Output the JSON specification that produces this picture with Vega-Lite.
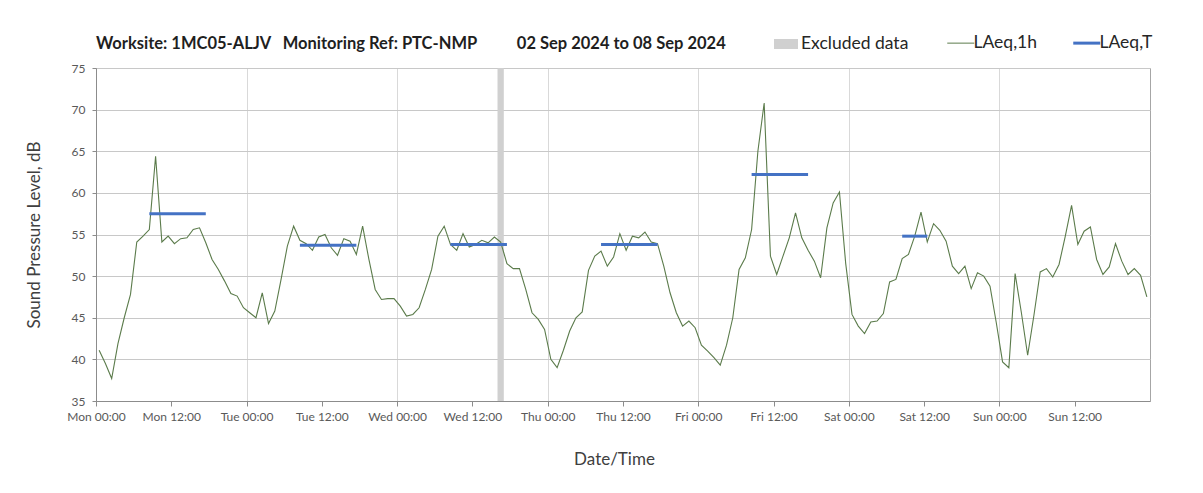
{
  "$schema": "https://vega.github.io/schema/vega-lite/v6.json",
  "width": 1054,
  "height": 333,
  "autosize": "none",
  "padding": {"left": 96, "top": 68, "right": 53, "bottom": 92},
  "background": "white",
  "title": {
    "text": "Worksite: 1MC05-ALJV\u00a0\u00a0 Monitoring Ref: PTC-NMP\u00a0\u00a0\u00a0\u00a0\u00a0\u00a0\u00a0\u00a0\u00a0 02 Sep 2024 to 08 Sep 2024",
    "anchor": "start",
    "frame": "group",
    "fontSize": 16.5,
    "fontWeight": "bold",
    "color": "#1f1f1f",
    "baseline": "alphabetic",
    "offset": 14,
    "dy": 45
  },
  "config": {
    "font": "Lato",
    "view": {"stroke": "#a6a6a6", "strokeWidth": 1},
    "axis": {
      "domainColor": "#8c8c8c",
      "tickColor": "#8c8c8c",
      "labelColor": "#595959",
      "labelFont": "Lato",
      "labelFontSize": 12,
      "titleFont": "Lato",
      "titleFontSize": 17,
      "titleFontWeight": "normal",
      "titleColor": "#404040",
      "gridColor": "#cccccc"
    }
  },
  "datasets": {
    "hourly": [
      {"t": "2024-09-02T00:30", "v": 41.1}, {"t": "2024-09-02T01:30", "v": 39.5}, {"t": "2024-09-02T02:30", "v": 37.7}, {"t": "2024-09-02T03:30", "v": 41.9},
      {"t": "2024-09-02T04:30", "v": 45.0}, {"t": "2024-09-02T05:30", "v": 47.8}, {"t": "2024-09-02T06:30", "v": 54.1}, {"t": "2024-09-02T07:30", "v": 54.8},
      {"t": "2024-09-02T08:30", "v": 55.6}, {"t": "2024-09-02T09:30", "v": 64.4}, {"t": "2024-09-02T10:30", "v": 54.1}, {"t": "2024-09-02T11:30", "v": 54.8},
      {"t": "2024-09-02T12:30", "v": 53.9}, {"t": "2024-09-02T13:30", "v": 54.5}, {"t": "2024-09-02T14:30", "v": 54.6}, {"t": "2024-09-02T15:30", "v": 55.6},
      {"t": "2024-09-02T16:30", "v": 55.8}, {"t": "2024-09-02T17:30", "v": 54.0}, {"t": "2024-09-02T18:30", "v": 52.0}, {"t": "2024-09-02T19:30", "v": 50.8},
      {"t": "2024-09-02T20:30", "v": 49.4}, {"t": "2024-09-02T21:30", "v": 47.9}, {"t": "2024-09-02T22:30", "v": 47.6}, {"t": "2024-09-02T23:30", "v": 46.2},
      {"t": "2024-09-03T00:30", "v": 45.6}, {"t": "2024-09-03T01:30", "v": 45.0}, {"t": "2024-09-03T02:30", "v": 48.0}, {"t": "2024-09-03T03:30", "v": 44.3},
      {"t": "2024-09-03T04:30", "v": 45.8}, {"t": "2024-09-03T05:30", "v": 49.6}, {"t": "2024-09-03T06:30", "v": 53.6}, {"t": "2024-09-03T07:30", "v": 56.0},
      {"t": "2024-09-03T08:30", "v": 54.3}, {"t": "2024-09-03T09:30", "v": 53.9}, {"t": "2024-09-03T10:30", "v": 53.1}, {"t": "2024-09-03T11:30", "v": 54.7},
      {"t": "2024-09-03T12:30", "v": 55.0}, {"t": "2024-09-03T13:30", "v": 53.4}, {"t": "2024-09-03T14:30", "v": 52.5}, {"t": "2024-09-03T15:30", "v": 54.5},
      {"t": "2024-09-03T16:30", "v": 54.2}, {"t": "2024-09-03T17:30", "v": 52.6}, {"t": "2024-09-03T18:30", "v": 56.0}, {"t": "2024-09-03T19:30", "v": 52.0},
      {"t": "2024-09-03T20:30", "v": 48.4}, {"t": "2024-09-03T21:30", "v": 47.2}, {"t": "2024-09-03T22:30", "v": 47.3}, {"t": "2024-09-03T23:30", "v": 47.3},
      {"t": "2024-09-04T00:30", "v": 46.4}, {"t": "2024-09-04T01:30", "v": 45.2}, {"t": "2024-09-04T02:30", "v": 45.4}, {"t": "2024-09-04T03:30", "v": 46.2},
      {"t": "2024-09-04T04:30", "v": 48.4}, {"t": "2024-09-04T05:30", "v": 50.8}, {"t": "2024-09-04T06:30", "v": 54.8}, {"t": "2024-09-04T07:30", "v": 56.0},
      {"t": "2024-09-04T08:30", "v": 53.8}, {"t": "2024-09-04T09:30", "v": 53.1}, {"t": "2024-09-04T10:30", "v": 55.1}, {"t": "2024-09-04T11:30", "v": 53.5},
      {"t": "2024-09-04T12:30", "v": 53.8}, {"t": "2024-09-04T13:30", "v": 54.3}, {"t": "2024-09-04T14:30", "v": 54.0}, {"t": "2024-09-04T15:30", "v": 54.7},
      {"t": "2024-09-04T16:30", "v": 54.1}, {"t": "2024-09-04T17:30", "v": 51.5}, {"t": "2024-09-04T18:30", "v": 50.9}, {"t": "2024-09-04T19:30", "v": 50.9},
      {"t": "2024-09-04T20:30", "v": 48.4}, {"t": "2024-09-04T21:30", "v": 45.6}, {"t": "2024-09-04T22:30", "v": 44.8}, {"t": "2024-09-04T23:30", "v": 43.6},
      {"t": "2024-09-05T00:30", "v": 40.0}, {"t": "2024-09-05T01:30", "v": 39.0}, {"t": "2024-09-05T02:30", "v": 41.1}, {"t": "2024-09-05T03:30", "v": 43.4},
      {"t": "2024-09-05T04:30", "v": 45.0}, {"t": "2024-09-05T05:30", "v": 45.7}, {"t": "2024-09-05T06:30", "v": 50.7}, {"t": "2024-09-05T07:30", "v": 52.4},
      {"t": "2024-09-05T08:30", "v": 53.0}, {"t": "2024-09-05T09:30", "v": 51.2}, {"t": "2024-09-05T10:30", "v": 52.3}, {"t": "2024-09-05T11:30", "v": 55.1},
      {"t": "2024-09-05T12:30", "v": 53.1}, {"t": "2024-09-05T13:30", "v": 54.8}, {"t": "2024-09-05T14:30", "v": 54.6}, {"t": "2024-09-05T15:30", "v": 55.3},
      {"t": "2024-09-05T16:30", "v": 54.1}, {"t": "2024-09-05T17:30", "v": 53.9}, {"t": "2024-09-05T18:30", "v": 51.2}, {"t": "2024-09-05T19:30", "v": 48.0},
      {"t": "2024-09-05T20:30", "v": 45.6}, {"t": "2024-09-05T21:30", "v": 44.0}, {"t": "2024-09-05T22:30", "v": 44.6}, {"t": "2024-09-05T23:30", "v": 43.8},
      {"t": "2024-09-06T00:30", "v": 41.7}, {"t": "2024-09-06T01:30", "v": 41.0}, {"t": "2024-09-06T02:30", "v": 40.2}, {"t": "2024-09-06T03:30", "v": 39.3},
      {"t": "2024-09-06T04:30", "v": 41.7}, {"t": "2024-09-06T05:30", "v": 45.0}, {"t": "2024-09-06T06:30", "v": 50.8}, {"t": "2024-09-06T07:30", "v": 52.2},
      {"t": "2024-09-06T08:30", "v": 55.6}, {"t": "2024-09-06T09:30", "v": 65.0}, {"t": "2024-09-06T10:30", "v": 70.8}, {"t": "2024-09-06T11:30", "v": 52.4},
      {"t": "2024-09-06T12:30", "v": 50.2}, {"t": "2024-09-06T13:30", "v": 52.4}, {"t": "2024-09-06T14:30", "v": 54.6}, {"t": "2024-09-06T15:30", "v": 57.6},
      {"t": "2024-09-06T16:30", "v": 54.6}, {"t": "2024-09-06T17:30", "v": 53.1}, {"t": "2024-09-06T18:30", "v": 51.8}, {"t": "2024-09-06T19:30", "v": 49.8},
      {"t": "2024-09-06T20:30", "v": 55.8}, {"t": "2024-09-06T21:30", "v": 58.8}, {"t": "2024-09-06T22:30", "v": 60.1}, {"t": "2024-09-06T23:30", "v": 51.5},
      {"t": "2024-09-07T00:30", "v": 45.4}, {"t": "2024-09-07T01:30", "v": 44.0}, {"t": "2024-09-07T02:30", "v": 43.1}, {"t": "2024-09-07T03:30", "v": 44.5},
      {"t": "2024-09-07T04:30", "v": 44.6}, {"t": "2024-09-07T05:30", "v": 45.5}, {"t": "2024-09-07T06:30", "v": 49.3}, {"t": "2024-09-07T07:30", "v": 49.6},
      {"t": "2024-09-07T08:30", "v": 52.1}, {"t": "2024-09-07T09:30", "v": 52.6}, {"t": "2024-09-07T10:30", "v": 54.8}, {"t": "2024-09-07T11:30", "v": 57.7},
      {"t": "2024-09-07T12:30", "v": 54.1}, {"t": "2024-09-07T13:30", "v": 56.3}, {"t": "2024-09-07T14:30", "v": 55.5}, {"t": "2024-09-07T15:30", "v": 54.2},
      {"t": "2024-09-07T16:30", "v": 51.2}, {"t": "2024-09-07T17:30", "v": 50.3}, {"t": "2024-09-07T18:30", "v": 51.2}, {"t": "2024-09-07T19:30", "v": 48.5},
      {"t": "2024-09-07T20:30", "v": 50.4}, {"t": "2024-09-07T21:30", "v": 50.0}, {"t": "2024-09-07T22:30", "v": 48.8}, {"t": "2024-09-07T23:30", "v": 44.4},
      {"t": "2024-09-08T00:30", "v": 39.7}, {"t": "2024-09-08T01:30", "v": 39.0}, {"t": "2024-09-08T02:30", "v": 50.3}, {"t": "2024-09-08T03:30", "v": 45.6},
      {"t": "2024-09-08T04:30", "v": 40.5}, {"t": "2024-09-08T05:30", "v": 45.3}, {"t": "2024-09-08T06:30", "v": 50.5}, {"t": "2024-09-08T07:30", "v": 50.9},
      {"t": "2024-09-08T08:30", "v": 49.9}, {"t": "2024-09-08T09:30", "v": 51.4}, {"t": "2024-09-08T10:30", "v": 54.8}, {"t": "2024-09-08T11:30", "v": 58.5},
      {"t": "2024-09-08T12:30", "v": 53.8}, {"t": "2024-09-08T13:30", "v": 55.4}, {"t": "2024-09-08T14:30", "v": 55.9}, {"t": "2024-09-08T15:30", "v": 52.0},
      {"t": "2024-09-08T16:30", "v": 50.2}, {"t": "2024-09-08T17:30", "v": 51.1}, {"t": "2024-09-08T18:30", "v": 53.9}, {"t": "2024-09-08T19:30", "v": 51.8},
      {"t": "2024-09-08T20:30", "v": 50.2}, {"t": "2024-09-08T21:30", "v": 50.9}, {"t": "2024-09-08T22:30", "v": 50.1}, {"t": "2024-09-08T23:30", "v": 47.5}
    ],
    "periods": [
      {"start": "2024-09-02T08:30", "end": "2024-09-02T17:30", "v": 57.5},
      {"start": "2024-09-03T08:30", "end": "2024-09-03T17:30", "v": 53.7},
      {"start": "2024-09-04T08:30", "end": "2024-09-04T17:30", "v": 53.8},
      {"start": "2024-09-05T08:30", "end": "2024-09-05T17:30", "v": 53.8},
      {"start": "2024-09-06T08:30", "end": "2024-09-06T17:30", "v": 62.2},
      {"start": "2024-09-07T08:30", "end": "2024-09-07T12:30", "v": 54.8}
    ],
    "excluded": [
      {"start": "2024-09-04T16:00", "end": "2024-09-04T17:00", "label": "Excluded data"}
    ]
  },
  "layer": [
    {
      "data": {"name": "excluded"},
      "mark": {"type": "rect"},
      "encoding": {
        "x": {"field": "start", "type": "temporal", "title": "Date/Time"},
        "x2": {"field": "end"},
        "fill": {
          "field": "label",
          "type": "nominal",
          "scale": {"domain": ["Excluded data"], "range": ["#d0d0d0"]},
          "legend": {
            "orient": "none",
            "legendX": 680,
            "legendY": -34,
            "title": null,
            "symbolType": "M-1.2,-0.5H1.2V0.5H-1.2Z",
            "symbolSize": 400,
            "symbolStrokeWidth": 0,
            "labelFontSize": 17.5,
            "labelColor": "#262626",
            "labelOffset": 5
          }
        }
      }
    },
    {
      "data": {"name": "hourly"},
      "mark": {"type": "line", "strokeWidth": 1.1},
      "encoding": {
        "x": {
          "field": "t",
          "type": "temporal",
          "title": "Date/Time",
          "scale": {"domain": [{"year": 2024, "month": 9, "date": 2, "hours": 0}, {"year": 2024, "month": 9, "date": 9, "hours": 0}]},
          "axis": {
            "format": "%a %H:%M",
            "values": [
              {"year": 2024, "month": 9, "date": 2, "hours": 0}, {"year": 2024, "month": 9, "date": 2, "hours": 12},
              {"year": 2024, "month": 9, "date": 3, "hours": 0}, {"year": 2024, "month": 9, "date": 3, "hours": 12},
              {"year": 2024, "month": 9, "date": 4, "hours": 0}, {"year": 2024, "month": 9, "date": 4, "hours": 12},
              {"year": 2024, "month": 9, "date": 5, "hours": 0}, {"year": 2024, "month": 9, "date": 5, "hours": 12},
              {"year": 2024, "month": 9, "date": 6, "hours": 0}, {"year": 2024, "month": 9, "date": 6, "hours": 12},
              {"year": 2024, "month": 9, "date": 7, "hours": 0}, {"year": 2024, "month": 9, "date": 7, "hours": 12},
              {"year": 2024, "month": 9, "date": 8, "hours": 0}, {"year": 2024, "month": 9, "date": 8, "hours": 12}
            ],
            "labelAngle": 0,
            "labelOverlap": false,
            "labelFlush": false,
            "tickSize": 5,
            "labelPadding": 5,
            "titlePadding": 29,
            "titleX": 518,
            "gridColor": "#d9d9d9",
            "gridOpacity": {"condition": {"test": "hours(datum.value) === 0", "value": 1}, "value": 0}
          }
        },
        "y": {
          "field": "v",
          "type": "quantitative",
          "title": "Sound Pressure Level, dB",
          "scale": {"domain": [35, 75], "nice": false, "zero": false},
          "axis": {
            "values": [35, 40, 45, 50, 55, 60, 65, 70, 75],
            "tickSize": 4,
            "labelPadding": 7,
            "titlePadding": 28,
            "gridColor": "#c8c8c8"
          }
        },
        "stroke": {
          "datum": "LAeq,1h",
          "type": "nominal",
          "scale": {"domain": ["LAeq,1h", "LAeq,T"], "range": ["#5b7b4b", "#4472c4"]},
          "legend": {
            "orient": "none",
            "legendX": 856,
            "legendY": -34,
            "direction": "horizontal",
            "title": null,
            "symbolType": "stroke",
            "symbolSize": 729,
            "symbolStrokeWidth": 1,
            "labelFontSize": 17.5,
            "labelColor": "#262626",
            "labelOffset": 4,
            "columnPadding": 29,
            "encode": {"symbols": {"update": {"strokeWidth": {"signal": "datum.value === 'LAeq,T' ? 3 : 1"}}}}
          }
        }
      }
    },
    {
      "data": {"name": "periods"},
      "mark": {"type": "rule", "strokeWidth": 3, "strokeCap": "butt"},
      "encoding": {
        "x": {"field": "start", "type": "temporal", "title": "Date/Time"},
        "x2": {"field": "end"},
        "y": {"field": "v", "type": "quantitative", "title": "Sound Pressure Level, dB"},
        "stroke": {"datum": "LAeq,T", "type": "nominal"}
      }
    }
  ]
}
